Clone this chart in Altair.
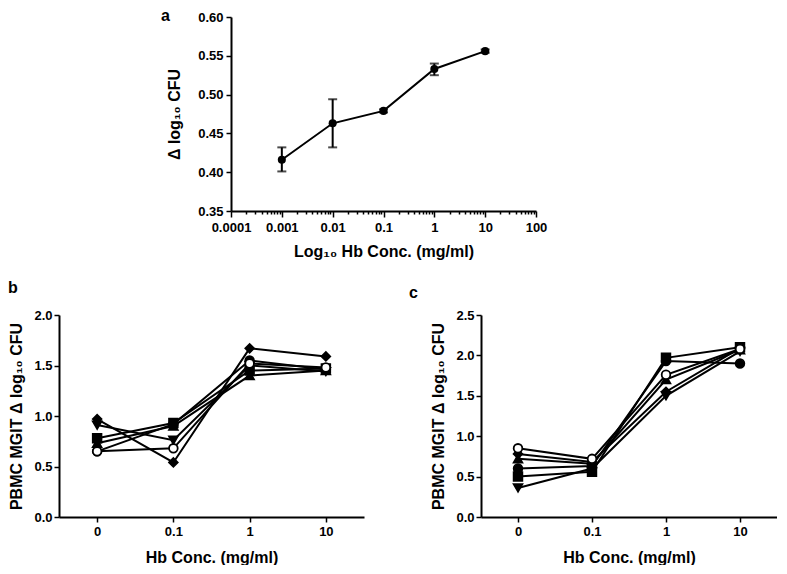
import altair as alt
import pandas as pd

FONT = "Liberation Sans"

# ---------------- panel a ----------------
a_conc = [0.001, 0.01, 0.1, 1, 10]
a_mean = [0.416, 0.463, 0.479, 0.533, 0.556]
a_low = [0.401, 0.432, 0.477, 0.525, 0.554]
a_high = [0.432, 0.494, 0.481, 0.540, 0.558]
a_major_ticks = [0.0001, 0.001, 0.01, 0.1, 1, 10, 100]
a_minor_mult = [2, 3, 4, 5, 6, 7, 8, 9]
a_y_ticks = [0.35, 0.40, 0.45, 0.50, 0.55, 0.60]

# ---------------- panels b and c ----------------
conc_labels = ["0", "0.1", "1", "10"]
series_names = ["diamond", "square", "filled circle", "triangle down", "triangle up", "open circle"]
series_shapes = ["diamond", "square", "circle", "triangle-down", "triangle-up", "circle"]
series_fills = ["black", "black", "black", "black", "black", "white"]

b_diamond = [0.97, 0.54, 1.67, 1.59]
b_square = [0.78, 0.93, 1.45, 1.47]
b_filled_circle = [0.65, 0.92, 1.55, 1.46]
b_triangle_down = [0.91, 0.76, 1.50, 1.44]
b_triangle_up = [0.73, 0.90, 1.40, 1.45]
b_open_circle = [0.65, 0.68, 1.52, 1.48]

c_diamond = [0.78, 0.68, 1.55, 2.09]
c_square = [0.50, 0.56, 1.97, 2.10]
c_filled_circle = [0.60, 0.63, 1.93, 1.90]
c_triangle_down = [0.36, 0.60, 1.50, 2.05]
c_triangle_up = [0.72, 0.66, 1.70, 2.07]
c_open_circle = [0.85, 0.72, 1.76, 2.08]

b_y_ticks = [0.0, 0.5, 1.0, 1.5, 2.0]
c_y_ticks = [0.0, 0.5, 1.0, 1.5, 2.0, 2.5]

panel_labels = ["a", "b", "c"]

y_title_a = "\u0394 log\u2081\u2080 CFU"
x_title_a = "Log\u2081\u2080 Hb Conc. (mg/ml)"
y_title_bc = "PBMC MGIT \u0394 log\u2081\u2080 CFU"
x_title_bc = "Hb Conc. (mg/ml)"


def label_layer(text, x, y, opacity=1.0):
    return alt.Chart(pd.DataFrame({"t": [text]})).mark_text(
        font=FONT, fontSize=16, fontWeight="bold", color="black",
        align="left", baseline="alphabetic", opacity=opacity
    ).encode(text="t:N", x=alt.value(x), y=alt.value(y))


# ---- panel a chart ----
df_a = pd.DataFrame({"conc": a_conc, "mean": a_mean, "low": a_low, "high": a_high})
a_minor_ticks = [m * d for d in a_major_ticks[:-1] for m in a_minor_mult]
major_test = "abs(log(datum.value)/LN10 - round(log(datum.value)/LN10)) < 0.001"

xa = alt.X(
    "conc:Q",
    scale=alt.Scale(type="log", domain=[a_major_ticks[0], a_major_ticks[-1]], nice=False),
    axis=alt.Axis(
        values=a_major_ticks + a_minor_ticks,
        labelExpr=f"({major_test}) ? format(datum.value, '~g') : ''",
        tickSize={"condition": {"test": major_test, "value": 6}, "value": 3},
        labelOverlap=False, labelFlush=False, labelPadding=4,
        title=x_title_a, titlePadding=9,
    ),
)
ya_scale = alt.Scale(domain=[a_y_ticks[0], a_y_ticks[-1]], nice=False, zero=False)
ya_axis = alt.Axis(values=a_y_ticks, format=".2f", title=y_title_a, titlePadding=15,
                   labelPadding=3, tickSize=5, labelOverlap=False)


def ya(field):
    return alt.Y(f"{field}:Q", scale=ya_scale, axis=ya_axis)


base_a = alt.Chart(df_a).encode(x=xa, y=ya("mean"))
a_line = base_a.mark_line(color="black", strokeWidth=2)
a_err = base_a.mark_rule(color="black", strokeWidth=2).encode(y=ya("low"), y2="high:Q")
a_cap_lo = base_a.mark_tick(color="black", orient="horizontal", size=9, thickness=2).encode(y=ya("low"))
a_cap_hi = base_a.mark_tick(color="black", orient="horizontal", size=9, thickness=2).encode(y=ya("high"))
a_pts = base_a.mark_point(filled=True, shape="circle", size=65, color="black", opacity=1)

chart_a = alt.layer(
    a_line, a_err, a_cap_lo, a_cap_hi, a_pts,
    label_layer(panel_labels[0], -70, 4),
).properties(width=305, height=194)

# invisible spacer that pushes panel a to the right
spacer = alt.Chart(pd.DataFrame({"t": [""]})).mark_text(opacity=0).encode(
    text="t:N", x=alt.value(0), y=alt.value(0)
).properties(width=90, height=10)


# ---- panels b, c ----
def make_df(vals):
    rows = []
    for name, v in zip(series_names, vals):
        for i, (c, y) in enumerate(zip(conc_labels, v)):
            rows.append({"series": name, "conc": c, "idx": i, "value": y})
    return pd.DataFrame(rows)


def panel(vals, yticks, label, width, lab_x, lab_y):
    df = make_df(vals)
    base = alt.Chart(df).encode(
        x=alt.X("conc:N", sort=conc_labels,
                scale=alt.Scale(type="point", padding=0.5),
                axis=alt.Axis(labelAngle=0, title=x_title_bc, titlePadding=11,
                              labelPadding=3, tickSize=5)),
        y=alt.Y("value:Q", scale=alt.Scale(domain=[yticks[0], yticks[-1]], nice=False),
                axis=alt.Axis(values=yticks, format=".1f", title=y_title_bc,
                              titlePadding=9, labelPadding=2, tickSize=5,
                              labelOverlap=False)),
    )
    lines = base.mark_line(color="black", strokeWidth=2).encode(
        detail="series:N", order="idx:Q")
    pts = base.mark_point(filled=True, size=75, stroke="black", strokeWidth=1.8,
                          opacity=1).encode(
        shape=alt.Shape("series:N", scale=alt.Scale(domain=series_names, range=series_shapes),
                        legend=None),
        fill=alt.Fill("series:N", scale=alt.Scale(domain=series_names, range=series_fills),
                      legend=None),
    )
    return alt.layer(
        lines, pts,
        label_layer(label, lab_x, lab_y),
    ).properties(width=width, height=202)


chart_b = panel([b_diamond, b_square, b_filled_circle, b_triangle_down, b_triangle_up, b_open_circle],
                b_y_ticks, panel_labels[1], 305, -51, -22)
chart_c = panel([c_diamond, c_square, c_filled_circle, c_triangle_down, c_triangle_up, c_open_circle],
                c_y_ticks, panel_labels[2], 296, -72, -17)

chart = alt.vconcat(
    alt.hconcat(spacer, chart_a, spacing=12),
    alt.hconcat(chart_b, chart_c, spacing=45),
    spacing=21,
).properties(padding=0).configure_view(strokeWidth=0).configure_axis(
    grid=False,
    domainColor="black", domainWidth=2,
    tickColor="black", tickWidth=1.5,
    labelFont=FONT, labelFontSize=13, labelFontWeight="bold", labelColor="black",
    titleFont=FONT, titleFontSize=16, titleFontWeight="bold", titleColor="black",
)

chart.save("out.html", embed_options={"renderer": "svg", "actions": False})
